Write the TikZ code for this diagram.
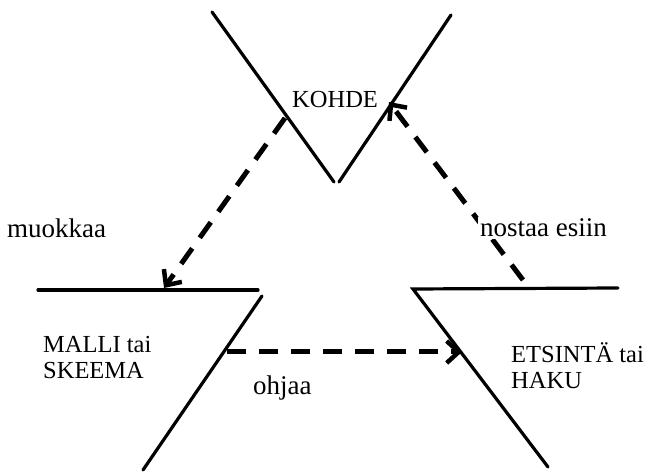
\documentclass[tikz,border=0pt]{standalone}
\usepackage{fontspec}
\setmainfont{Liberation Serif}
\usetikzlibrary{arrows.meta}
\begin{document}
\begin{tikzpicture}[x=1pt,y=-1pt,
  frame/.style={line width=3.2pt, line cap=round, line join=miter},
  flow/.style={line width=5pt, dash pattern=on 19pt off 13pt,
    -{Straight Barb[length=12pt,width=22pt,line width=4.5pt]}},
  lbl/.style={font=\fontsize{27}{28}\selectfont, inner sep=0pt, align=left},
  caplbl/.style={lbl, font=\fontsize{24.5}{26.5}\selectfont}]
\useasboundingbox (0,0) rectangle (649,473);
% frames
\draw[frame] (212,12) -- (334,182);
\draw[frame] (339,182) -- (451,15);
\draw[frame] (38,290) -- (258,290);
\draw[frame] (262,296) -- (143,470);
\draw[frame] (618,288) -- (413,289) -- (548,467);
% connector endpoints
\coordinate (a1) at (285,118);
\coordinate (a2) at (164,288);
\coordinate (b1) at (523,280);
\coordinate (b2) at (389,102);
\coordinate (c1) at (227,352);
\coordinate (c2) at (462,352);
\draw[flow] (a1) -- (a2);
\draw[flow] (b1) -- (b2);
\draw[flow] (c1) -- (c2);
% labels
\node[caplbl, anchor=base west] (kohde) at (292,108) {KOHDE};
\node[lbl, anchor=base west] (muokkaa) at (7,238) {muokkaa};
\node[lbl, anchor=base west, fill=white, inner sep=2pt] (nostaa) at (478,237) {nostaa esiin};
\node[lbl, anchor=base west] (ohjaa) at (253,395) {ohjaa};
\node[caplbl, anchor=north west] (malli) at (43,336) {MALLI tai\\SKEEMA};
\node[caplbl, anchor=north west] (etsinta) at (511,342) {ETSINTÄ tai\\HAKU};
\end{tikzpicture}
\end{document}
